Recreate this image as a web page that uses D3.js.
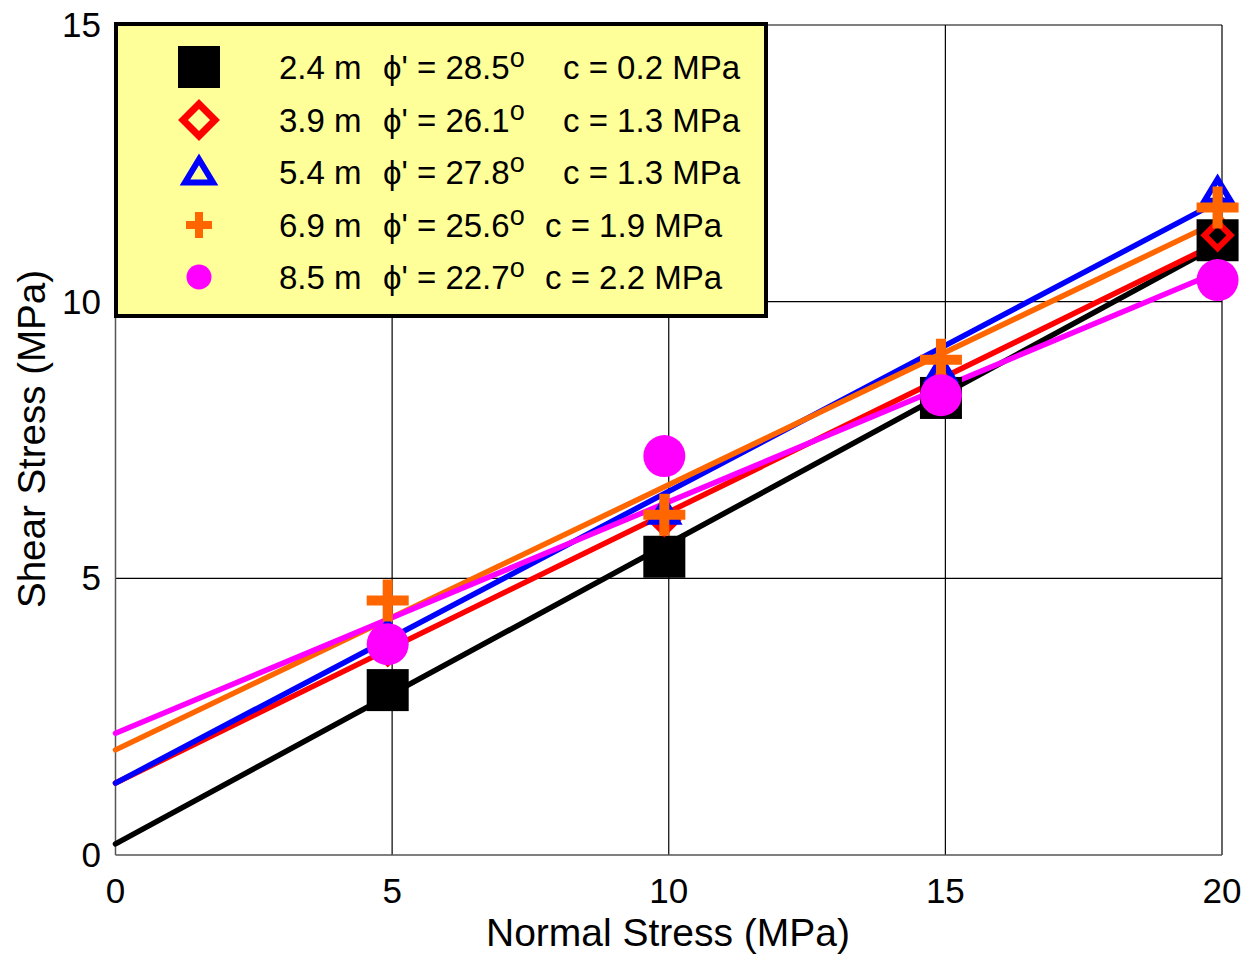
<!DOCTYPE html>
<html>
<head>
<meta charset="utf-8">
<script src="https://cdn.jsdelivr.net/npm/d3@7"></script>
<style>
  body { margin: 0; background: #fff; }
  text { font-family: "Liberation Sans", Arial, sans-serif; }
</style>
</head>
<body>
<div id="svg"></div>
<script>
const width = 1254,
      height = 955;

// data
const depths = ["2.4 m", "3.9 m", "5.4 m", "6.9 m", "8.5 m"];
const phi = [28.5, 26.1, 27.8, 25.6, 22.7];
const cohesion = [0.2, 1.3, 1.3, 1.9, 2.2];
const normalStress = [4.92, 9.92, 14.92, 19.92];
const shear24 = [2.98, 5.39, 8.26, 11.11];
const shear39 = [3.7, 6.05, 8.5, 11.2];
const shear54 = [4.0, 6.2, 8.76, 12.0];
const shear69 = [4.6, 6.15, 8.95, 11.7];
const shear85 = [3.81, 7.21, 8.31, 10.39];
const xTicks = [0, 5, 10, 15, 20];
const yTicks = [0, 5, 10, 15];

const shear = [shear24, shear39, shear54, shear69, shear85];
const colors = ["#000000", "#ff0000", "#0000ff", "#ff6600", "#ff00ff"];
const shapes = ["square", "diamond", "triangle", "plus", "circle"];

const svg = d3.select("#svg")
  .append("svg")
    .attr("width", width)
    .attr("height", height);

const x = d3.scaleLinear().domain([0, 20]).range([115.5, 1222]);
const y = d3.scaleLinear().domain([0, 15]).range([855, 25]);

// grid
svg.append("g")
  .selectAll("line")
  .data(xTicks.slice(1))
  .enter().append("line")
    .attr("x1", d => x(d)).attr("x2", d => x(d))
    .attr("y1", y(0)).attr("y2", y(15))
    .attr("stroke", "#000").attr("stroke-width", 1.2);

svg.append("g")
  .selectAll("line")
  .data(yTicks.slice(1))
  .enter().append("line")
    .attr("x1", x(0)).attr("x2", x(20))
    .attr("y1", d => y(d)).attr("y2", d => y(d))
    .attr("stroke", "#000").attr("stroke-width", 1.2);

// axes lines
svg.append("line")
  .attr("x1", x(0)).attr("x2", x(0)).attr("y1", y(0)).attr("y2", y(15))
  .attr("stroke", "#555").attr("stroke-width", 1.5);
svg.append("line")
  .attr("x1", x(0)).attr("x2", x(20)).attr("y1", y(0)).attr("y2", y(0))
  .attr("stroke", "#555").attr("stroke-width", 1.5);

// tick labels
svg.append("g")
  .selectAll("text")
  .data(xTicks)
  .enter().append("text")
    .attr("x", d => x(d))
    .attr("y", 903)
    .attr("text-anchor", "middle")
    .style("font-size", "35px")
    .text(d => d);

svg.append("g")
  .selectAll("text")
  .data(yTicks)
  .enter().append("text")
    .attr("x", 101)
    .attr("y", d => y(d) + 12)
    .attr("text-anchor", "end")
    .style("font-size", "35px")
    .text(d => d);

// axis titles
svg.append("text")
  .attr("x", 668).attr("y", 946)
  .attr("text-anchor", "middle")
  .style("font-size", "39px")
  .text("Normal Stress (MPa)");

svg.append("text")
  .attr("transform", "translate(45, 439) rotate(-90)")
  .attr("text-anchor", "middle")
  .style("font-size", "38.5px")
  .text("Shear Stress (MPa)");

// fitted Mohr-Coulomb lines
const fits = svg.append("g");
depths.forEach((d, i) => {
  const t = Math.tan(phi[i] * Math.PI / 180);
  fits.append("line")
    .attr("x1", x(0)).attr("y1", y(cohesion[i]))
    .attr("x2", x(20)).attr("y2", y(cohesion[i] + 20 * t))
    .attr("stroke", colors[i])
    .attr("stroke-width", 5.5)
    .attr("stroke-linecap", "round");
});

// size: [half size, stroke]
function marker(g, shape, color, cx, cy, r, sw) {
  if (shape === "square") {
    g.append("rect")
      .attr("x", cx - r).attr("y", cy - r)
      .attr("width", 2 * r).attr("height", 2 * r)
      .attr("fill", color);
  } else if (shape === "diamond") {
    g.append("path")
      .attr("d", `M${cx},${cy - r}L${cx + r},${cy}L${cx},${cy + r}L${cx - r},${cy}Z`)
      .attr("fill", "none").attr("stroke", color).attr("stroke-width", sw);
  } else if (shape === "triangle") {
    g.append("path")
      .attr("d", `M${cx},${cy - r * 0.9}L${cx + r},${cy + r * 0.75}L${cx - r},${cy + r * 0.75}Z`)
      .attr("fill", "none").attr("stroke", color).attr("stroke-width", sw);
  } else if (shape === "plus") {
    g.append("path")
      .attr("d", `M${cx - r},${cy}H${cx + r}M${cx},${cy - r}V${cy + r}`)
      .attr("stroke", color).attr("stroke-width", sw);
  } else {
    g.append("circle")
      .attr("cx", cx).attr("cy", cy).attr("r", r)
      .attr("fill", color);
  }
}

const plotSize = [[21, 0], [13, 6], [13, 6], [21, 10], [21, 0]];
const legendSize = [[21, 0], [16, 7], [14, 6], [13, 8], [12.5, 0]];

// data points
const pts = svg.append("g");
shear.forEach((vals, i) => {
  vals.forEach((v, j) => marker(pts, shapes[i], colors[i], x(normalStress[j]), y(v), plotSize[i][0], plotSize[i][1]));
});

// legend
const legend = svg.append("g");
legend.append("rect")
  .attr("x", 116).attr("y", 24)
  .attr("width", 650).attr("height", 292)
  .attr("fill", "#ffff99")
  .attr("stroke", "#000")
  .attr("stroke-width", 4);

const rowY = [67, 120, 172, 225, 277];
const cX = [563, 563, 563, 545, 545];
depths.forEach((d, i) => {
  marker(legend, shapes[i], colors[i], 199, rowY[i], legendSize[i][0], legendSize[i][1]);
  const t = legend.append("text")
    .attr("y", rowY[i] + 12)
    .style("font-size", "33px");
  t.append("tspan").attr("x", 279).text(d);
  t.append("tspan").attr("x", 383).text("\u03d5' = " + phi[i].toFixed(1));
  t.append("tspan").attr("dy", -12).style("font-size", "27px").text("o");
  t.append("tspan").attr("x", cX[i]).attr("dy", 12).text("c = " + cohesion[i].toFixed(1) + " MPa");
});
</script>
</body>
</html>
